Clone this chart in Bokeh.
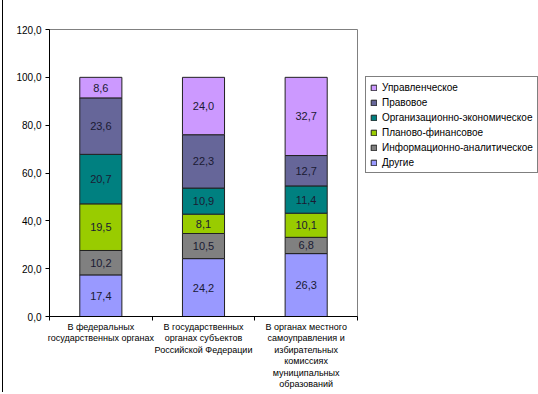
from bokeh.plotting import figure
from bokeh.models import (Range1d, FixedTicker, CustomJSTickFormatter, Legend, LegendItem,
                          ColumnDataSource)
from bokeh.core.properties import value
from bokeh.embed import file_html
from bokeh.resources import INLINE

categories = [
    "В федеральных\nгосударственных органах",
    "В государственных\nорганах субъектов\nРоссийской Федерации",
    "В органах местного\nсамоуправления и\nизбирательных\nкомиссиях\nмуниципальных\nобразований",
]
series_names = ["Другие", "Информационно-аналитическое", "Планово-финансовое",
                "Организационно-экономическое", "Правовое", "Управленческое"]
drugie = [17.4, 24.2, 26.3]
inform = [10.2, 10.5, 6.8]
planovo = [19.5, 8.1, 10.1]
organiz = [20.7, 10.9, 11.4]
pravovoe = [23.6, 22.3, 12.7]
upravl = [8.6, 24.0, 32.7]
colors = ["#9999FF", "#808080", "#99CC00", "#008080", "#666699", "#CC99FF"]
y_ticks = [0, 20, 40, 60, 80, 100, 120]

series = [drugie, inform, planovo, organiz, pravovoe, upravl]
xs = [0.5, 1.5, 2.5]

FONT = "Liberation Sans"

p = figure(width=535, height=394, frame_width=308, frame_height=287,
           output_backend="svg", toolbar_location=None,
           x_range=Range1d(0, 3), y_range=Range1d(0, 120),
           min_border_left=46, min_border_right=10, min_border_top=29, min_border_bottom=20)
p.styles = {"margin-left": "2px", "border-left": "1px solid #000000"}
p.xgrid.visible = False
p.ygrid.visible = False
p.outline_line_color = "#808080"
p.outline_line_width = 1

data = {"x": xs}
keys = []
for i, s in enumerate(series):
    k = f"s{i}"
    keys.append(k)
    data[k] = s
src = ColumnDataSource(data)
renderers = p.vbar_stack(keys, x="x", width=0.41, source=src, fill_color=colors,
                         line_color="#222222", line_width=1)

# segment labels
lx, ly, lt = [], [], []
for j in range(3):
    cum = 0.0
    for s in series:
        v = s[j]
        lx.append(xs[j])
        ly.append(cum + v / 2)
        lt.append(f"{v:.1f}".replace(".", ","))
        cum += v
p.text(x=lx, y=ly, text=lt, text_align="center", text_baseline="middle",
       text_font=value(FONT), text_font_size="11px", text_color="#1a1a33")

# y axis
p.yaxis.ticker = FixedTicker(ticks=y_ticks)
p.yaxis.formatter = CustomJSTickFormatter(code="return tick.toFixed(1).replace('.', ',');")
p.yaxis.major_label_text_font = FONT
p.yaxis.major_label_text_font_size = "10px"
p.yaxis.major_label_text_color = "#000000"
p.yaxis.major_tick_out = 4
p.yaxis.major_tick_in = 0
p.yaxis.minor_tick_line_color = None
p.yaxis.axis_line_color = "#000000"
p.yaxis.major_tick_line_color = "#000000"
p.yaxis.major_label_standoff = 4

# x axis
p.xaxis.ticker = FixedTicker(ticks=xs, minor_ticks=[0, 1, 2, 3])
p.xaxis.major_label_overrides = {x: c for x, c in zip(xs, categories)}
p.xaxis.major_tick_out = 0
p.xaxis.major_tick_in = 0
p.xaxis.minor_tick_out = 4
p.xaxis.minor_tick_in = 0
p.xaxis.minor_tick_line_color = "#000000"
p.xaxis.axis_line_color = "#000000"
p.xaxis.major_label_text_font = FONT
p.xaxis.major_label_text_font_size = "9px"
p.xaxis.major_label_text_line_height = 1.15
p.xaxis.major_label_text_color = "#000000"
p.xaxis.major_label_standoff = 1

# legend
items = [LegendItem(label=series_names[i], renderers=[renderers[i]]) for i in range(5, -1, -1)]
legend = Legend(items=items, location=(8, 143))
legend.label_text_font = FONT
legend.label_text_font_size = "10px"
legend.label_text_color = "#000000"
legend.glyph_width = 7
legend.glyph_height = 7
legend.label_height = 12
legend.label_standoff = 5
legend.spacing = 3
legend.padding = 4
legend.margin = 0
legend.border_line_color = "#000000"
legend.border_line_width = 1
legend.background_fill_alpha = 1
p.add_layout(legend, "right")

open("out.html", "w").write(file_html(p, INLINE))
